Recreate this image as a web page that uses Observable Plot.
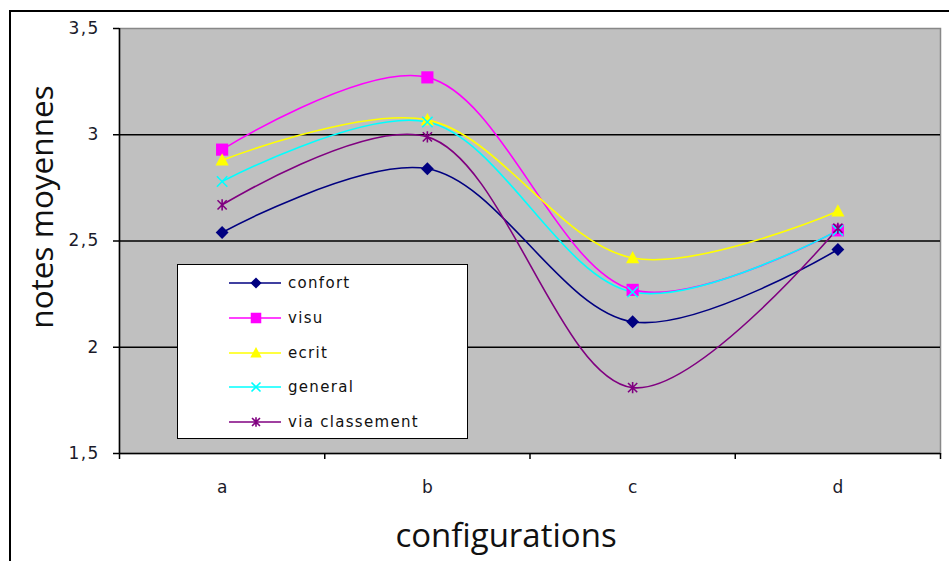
<!DOCTYPE html>
<html>
<head>
<meta charset="utf-8">
<script src="https://cdn.jsdelivr.net/npm/d3@7"></script>
<script src="https://cdn.jsdelivr.net/npm/@observablehq/plot@0.6"></script>
<style>
  html, body { margin: 0; padding: 0; background: #fff; }
  #wrap { position: relative; width: 949px; height: 561px; overflow: hidden; background: #fff; font-family: "DejaVu Sans", sans-serif; }
  #frame { position: absolute; left: 9px; top: 10px; width: 960px; height: 600px; border-left: 2px solid #000; border-top: 2px solid #000; box-sizing: border-box; }
  #chart { position: absolute; left: 0; top: 0; }
  #chart g[aria-label="y-axis tick label"] { font-family: "DejaVu Sans", sans-serif; font-size: 17px; letter-spacing: 1.3px; fill: #1a1a2a; }
  #chart g[aria-label="x-axis tick label"] { font-family: "DejaVu Sans", sans-serif; font-size: 17px; fill: #1a1a2a; }
  .ytitle { position: absolute; left: 40px; top: 207px; transform: translate(-50%, -50%) rotate(-90deg); font-family: "Open Sans", sans-serif; font-size: 31.5px; color: #111; white-space: nowrap; }
  .xtitle { position: absolute; left: 506px; top: 534px; transform: translate(-50%, -50%); font-family: "Open Sans", sans-serif; font-size: 33px; color: #111; white-space: nowrap; }
  #legend { position: absolute; left: 177px; top: 264px; width: 291px; height: 175px; background: #fff; border: 1.5px solid #000; box-sizing: border-box; }
  .item { position: absolute; left: 0; height: 20px; display: flex; align-items: center; font-family: "DejaVu Sans", sans-serif; font-size: 15px; color: #111; letter-spacing: 1.3px; }
  .item svg { margin-left: 51px; margin-right: 5px; }
</style>
</head>
<body>
<div id="wrap">
  <div id="frame"></div>
  <div id="chart"></div>
  <div class="ytitle">notes moyennes</div>
  <div class="xtitle">configurations</div>
  <div id="legend"></div>
</div>
<script>
const categories = ["a", "b", "c", "d"];
const seriesNames = ["confort", "visu", "ecrit", "general", "via classement"];
const confort = [2.54, 2.84, 2.12, 2.46];
const visu = [2.93, 3.27, 2.27, 2.55];
const ecrit = [2.88, 3.07, 2.42, 2.64];
const general = [2.78, 3.06, 2.26, 2.55];
const viaClassement = [2.67, 2.99, 1.81, 2.56];
const seriesValues = [confort, visu, ecrit, general, viaClassement];
const colors = ["#000080", "#ff00ff", "#ffff00", "#00ffff", "#800080"];
const yTicks = [1.5, 2, 2.5, 3, 3.5];
const gridTicks = [2, 2.5, 3];

// Excel-like marker shapes
const excelDiamond = {draw(ctx, size) { const r = Math.sqrt(size / Math.PI) * 1.15; ctx.moveTo(0, -r); ctx.lineTo(r, 0); ctx.lineTo(0, r); ctx.lineTo(-r, 0); ctx.closePath(); }};
const excelSquare = {draw(ctx, size) { const h = Math.sqrt(size / Math.PI) * 0.95; ctx.rect(-h, -h, 2 * h, 2 * h); }};
const excelTriangle = {draw(ctx, size) { const r = Math.sqrt(size / Math.PI); ctx.moveTo(0, -r * 1.05); ctx.lineTo(r, r * 0.8); ctx.lineTo(-r, r * 0.8); ctx.closePath(); }};
const excelX = {draw(ctx, size) { const r = Math.sqrt(size / Math.PI); ctx.moveTo(-r, -r); ctx.lineTo(r, r); ctx.moveTo(-r, r); ctx.lineTo(r, -r); }};
const excelStar = {draw(ctx, size) { const r = Math.sqrt(size / Math.PI); ctx.moveTo(-r, -r); ctx.lineTo(r, r); ctx.moveTo(-r, r); ctx.lineTo(r, -r); ctx.moveTo(0, -r * 1.2); ctx.lineTo(0, r * 1.2); }};
const symbols = [excelDiamond, excelSquare, excelTriangle, excelX, excelStar];

const rows = [];
seriesNames.forEach((s, si) => {
  categories.forEach((c, ci) => rows.push({series: s, si, cat: c, x: ci + 0.5, y: seriesValues[si][ci]}));
});

const filled = [true, true, true, false, false];
const sizes = [5.6, 6.4, 6.6, 5.2, 4.6];

const marks = [
  Plot.frame({fill: "#c0c0c0", stroke: "#888888", strokeWidth: 1.5}),
  Plot.gridY(gridTicks, {stroke: "#000", strokeOpacity: 1, strokeWidth: 1.6}),
];
seriesNames.forEach((s, si) => {
  const d = rows.filter(r => r.si === si);
  marks.push(Plot.line(d, {x: "x", y: "y", stroke: colors[si], strokeWidth: 1.6, curve: "catmull-rom"}));
});
seriesNames.forEach((s, si) => {
  const d = rows.filter(r => r.si === si);
  marks.push(Plot.dot(d, filled[si]
    ? {x: "x", y: "y", symbol: symbols[si], fill: colors[si], stroke: "none", r: sizes[si]}
    : {x: "x", y: "y", symbol: symbols[si], stroke: colors[si], strokeWidth: 1.6, r: sizes[si]}));
});
marks.push(
  Plot.ruleX([0], {stroke: "#000", strokeWidth: 1.5}),
  Plot.ruleY([1.5], {stroke: "#000", strokeWidth: 1.5}),
  Plot.axisY({ticks: yTicks, tickSize: 6, tickPadding: 14, tickFormat: d => String(d).replace(".", ","), stroke: "#000", strokeWidth: 1.5, label: null}),
  Plot.axisX({ticks: [0, 1, 2, 3, 4], tickSize: 6, tickFormat: () => "", stroke: "#000", strokeWidth: 1.5, label: null}),
  Plot.axisX({ticks: categories.map((c, i) => i + 0.5), tickSize: 0, tickPadding: 27, tickFormat: d => categories[Math.round(d - 0.5)], label: null})
);

const chart = Plot.plot({
  width: 949,
  height: 561,
  marginLeft: 119,
  marginRight: 9,
  marginTop: 28,
  marginBottom: 108,
  style: {background: "transparent", fontFamily: "'DejaVu Sans', sans-serif", color: "#111", overflow: "visible"},
  x: {type: "linear", domain: [0, 4], axis: null},
  y: {type: "linear", domain: [1.5, 3.5], axis: null},
  marks
});
document.getElementById("chart").appendChild(chart);

// legend
const legend = document.getElementById("legend");
seriesNames.forEach((s, si) => {
  const item = document.createElement("div");
  item.className = "item";
  item.style.top = (8 + si * 34.8) + "px";
  const svg = d3.create("svg").attr("width", 54).attr("height", 16);
  svg.append("line").attr("x1", 0).attr("x2", 52).attr("y1", 8).attr("y2", 8).attr("stroke", colors[si]).attr("stroke-width", 1.6);
  const p = svg.append("path")
    .attr("transform", "translate(27,8)")
    .attr("d", d3.symbol(symbols[si], Math.PI * sizes[si] * sizes[si] * 0.75)());
  if (filled[si]) p.attr("fill", colors[si]); else p.attr("fill", "none").attr("stroke", colors[si]).attr("stroke-width", 1.6);
  item.appendChild(svg.node());
  const t = document.createElement("span");
  t.textContent = s;
  item.appendChild(t);
  legend.appendChild(item);
});
</script>
</body>
</html>
